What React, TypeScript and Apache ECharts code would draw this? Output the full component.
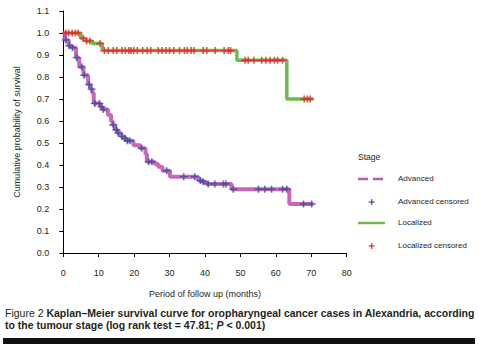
import React, { useEffect, useRef } from "react";
import * as echarts from "echarts";

// Kaplan–Meier step data: time (months) at which survival changes, new survival value
const advTime = [0, 0.4, 1.5, 2.4, 3.6, 4.5, 5.7, 7.0, 7.6, 8.2, 8.6, 10.5, 11.1, 12.6, 13.5, 13.9, 14.6, 15.3, 16.3, 17.2, 17.9, 19.8, 21.7, 23.2, 23.6, 25.8, 26.8, 28.0, 30.1, 38.1, 39.2, 40.3, 47.5, 63.8, 70.6];
const advSurv = [1.0, 0.968, 0.942, 0.933, 0.888, 0.846, 0.808, 0.766, 0.745, 0.726, 0.68, 0.664, 0.652, 0.627, 0.6, 0.582, 0.56, 0.545, 0.53, 0.52, 0.51, 0.49, 0.476, 0.45, 0.415, 0.404, 0.392, 0.374, 0.347, 0.33, 0.324, 0.314, 0.29, 0.223, 0.223];

const locTime = [0, 4.9, 6.1, 8.2, 11.0, 49.0, 63.1, 70.6];
const locSurv = [1.0, 0.976, 0.964, 0.952, 0.92, 0.876, 0.70, 0.70];

// censored observation times
const advCensored = [0.7, 1.7, 2.6, 3.8, 5.2, 5.9, 7.3, 8.0, 8.9, 10.2, 10.8, 11.3, 14.1, 15.0, 15.5, 16.6, 17.4, 18.1, 18.8, 22.1, 24.1, 25.0, 29.2, 34.0, 37.1, 38.7, 39.5, 40.9, 42.8, 45.2, 45.9, 48.0, 55.1, 56.9, 58.8, 61.9, 63.1, 67.8, 70.1];
const locCensored = [0.7, 1.5, 2.5, 3.4, 4.2, 5.6, 6.6, 7.5, 10.4, 11.6, 12.7, 14.1, 15.1, 16.6, 17.5, 18.5, 19.1, 19.9, 20.9, 22.4, 23.7, 24.7, 26.8, 27.9, 29.0, 30.0, 31.2, 32.8, 34.2, 35.0, 36.1, 36.9, 39.5, 40.5, 42.9, 45.4, 46.6, 47.2, 51.3, 52.2, 53.8, 56.0, 57.2, 58.4, 59.6, 60.5, 61.9, 68.0, 68.9, 69.7];

const xTicks = [0, 10, 20, 30, 40, 50, 60, 70, 80];
const legendItems = ["Advanced", "Advanced censored", "Localized", "Localized censored"];

const PURPLE = "#c455b0";
const GREEN = "#6cbb4a";
const BLUE = "#2f4f9f";
const RED = "#e8262a";
const TEXT = "#231f20";
const FONT = "Liberation Sans, Arial, sans-serif";
const PLUS = "path://M4,0H6V4H10V6H6V10H4V6H0V4H4Z";

function stepAt(times: number[], surv: number[], t: number) {
  let v = surv[0];
  for (let i = 0; i < times.length; i++) {
    if (times[i] <= t) v = surv[i];
  }
  return v;
}

export default function App() {
  const ref = useRef<HTMLDivElement>(null);
  useEffect(() => {
    document.body.style.margin = "0";
    const chart = echarts.init(ref.current!, null, { renderer: "svg" });
    const advLine = advTime.map((t, i) => [t, advSurv[i]]);
    const locLine = locTime.map((t, i) => [t, locSurv[i]]);
    const advC = advCensored.map((t) => [t, stepAt(advTime, advSurv, t)]);
    const locC = locCensored.map((t) => [t, stepAt(locTime, locSurv, t)]);

    const legendY = [179, 202, 223, 246];
    const plusShape = (cx: number, cy: number, color: string) => ({
      type: "group",
      children: [
        { type: "line", shape: { x1: cx - 3, y1: cy, x2: cx + 3, y2: cy }, style: { stroke: color, lineWidth: 1.2 } },
        { type: "line", shape: { x1: cx, y1: cy - 3, x2: cx, y2: cy + 3 }, style: { stroke: color, lineWidth: 1.2 } },
      ],
    });

    chart.setOption({
      animation: false,
      textStyle: { fontFamily: FONT },
      grid: { left: 63.3, right: 132.3, top: 11, bottom: 98 },
      xAxis: {
        type: "value",
        min: 0,
        max: 80,
        interval: 10,
        name: "Period of follow up (months)",
        nameLocation: "middle",
        nameGap: 36,
        nameTextStyle: { fontSize: 9, color: TEXT, fontFamily: FONT },
        axisLine: { lineStyle: { color: "#000", width: 1 } },
        axisTick: { length: 4, lineStyle: { color: "#000" } },
        axisLabel: {
          fontSize: 9,
          color: TEXT,
          margin: 15,
          fontFamily: FONT,
          formatter: (v: number) => (xTicks.includes(v) ? String(v) : ""),
        },
        splitLine: { show: false },
      },
      yAxis: {
        type: "value",
        min: 0,
        max: 1.1,
        interval: 0.1,
        name: "Cumulative probability of survival",
        nameLocation: "middle",
        nameGap: 42,
        nameTextStyle: { fontSize: 9, color: TEXT, fontFamily: FONT },
        axisLine: { show: true, lineStyle: { color: "#000", width: 1 } },
        axisTick: { show: true, length: 4, lineStyle: { color: "#000" } },
        axisLabel: {
          fontSize: 9,
          color: TEXT,
          margin: 14,
          fontFamily: FONT,
          formatter: (v: number) => v.toFixed(1),
        },
        splitLine: { show: false },
      },
      series: [
        {
          name: "Localized",
          type: "line",
          step: "end",
          data: locLine,
          symbol: "none",
          lineStyle: { color: GREEN, width: 3.5 },
          z: 2,
        },
        {
          name: "Advanced",
          type: "line",
          step: "end",
          data: advLine,
          symbol: "none",
          lineStyle: { color: PURPLE, width: 4, opacity: 0.9 },
          z: 2,
        },
        {
          name: "Localized censored",
          type: "scatter",
          data: locC,
          symbol: PLUS,
          symbolSize: [8, 7],
          itemStyle: { color: RED },
          z: 3,
        },
        {
          name: "Advanced censored",
          type: "scatter",
          data: advC,
          symbol: PLUS,
          symbolSize: [8, 7],
          itemStyle: { color: BLUE },
          z: 3,
        },
      ],
      graphic: [
        { type: "text", left: 358, top: 152, style: { text: "Stage", fontSize: 8.5, fill: TEXT, fontFamily: FONT } },
        { type: "line", shape: { x1: 358, y1: legendY[0], x2: 385, y2: legendY[0] }, style: { stroke: PURPLE, lineWidth: 2.5, lineDash: [10, 5] } },
        plusShape(371.7, legendY[1], BLUE),
        { type: "line", shape: { x1: 358, y1: legendY[2], x2: 385, y2: legendY[2] }, style: { stroke: GREEN, lineWidth: 2.5 } },
        plusShape(371.7, legendY[3], RED),
        ...legendItems.map((t, i) => ({
          type: "text",
          left: 398,
          top: legendY[i] - 5,
          style: { text: t, fontSize: 8, fill: TEXT, fontFamily: FONT },
        })),
        {
          type: "text",
          left: 5,
          top: 307,
          style: {
            text: "{n|Figure 2 }{b|Kaplan–Meier survival curve for oropharyngeal cancer cases in Alexandria, according}",
            rich: {
              n: { fontSize: 10.5, fontFamily: FONT, fill: TEXT },
              b: { fontSize: 10.5, fontFamily: FONT, fontWeight: "bold", fill: TEXT },
            },
          },
        },
        {
          type: "text",
          left: 5,
          top: 319,
          style: {
            text: "{b|to the tumour stage (log rank test = 47.81; }{i|P}{b| < 0.001)}",
            rich: {
              b: { fontSize: 10.5, fontFamily: FONT, fontWeight: "bold", fill: TEXT },
              i: { fontSize: 10.5, fontFamily: FONT, fontWeight: "bold", fontStyle: "italic", fill: TEXT },
            },
          },
        },
        { type: "rect", shape: { x: 3, y: 338, width: 472, height: 6 }, style: { fill: "#111" } },
      ],
    });
    return () => chart.dispose();
  }, []);
  return <div ref={ref} style={{ width: 479, height: 351 }} />;
}
